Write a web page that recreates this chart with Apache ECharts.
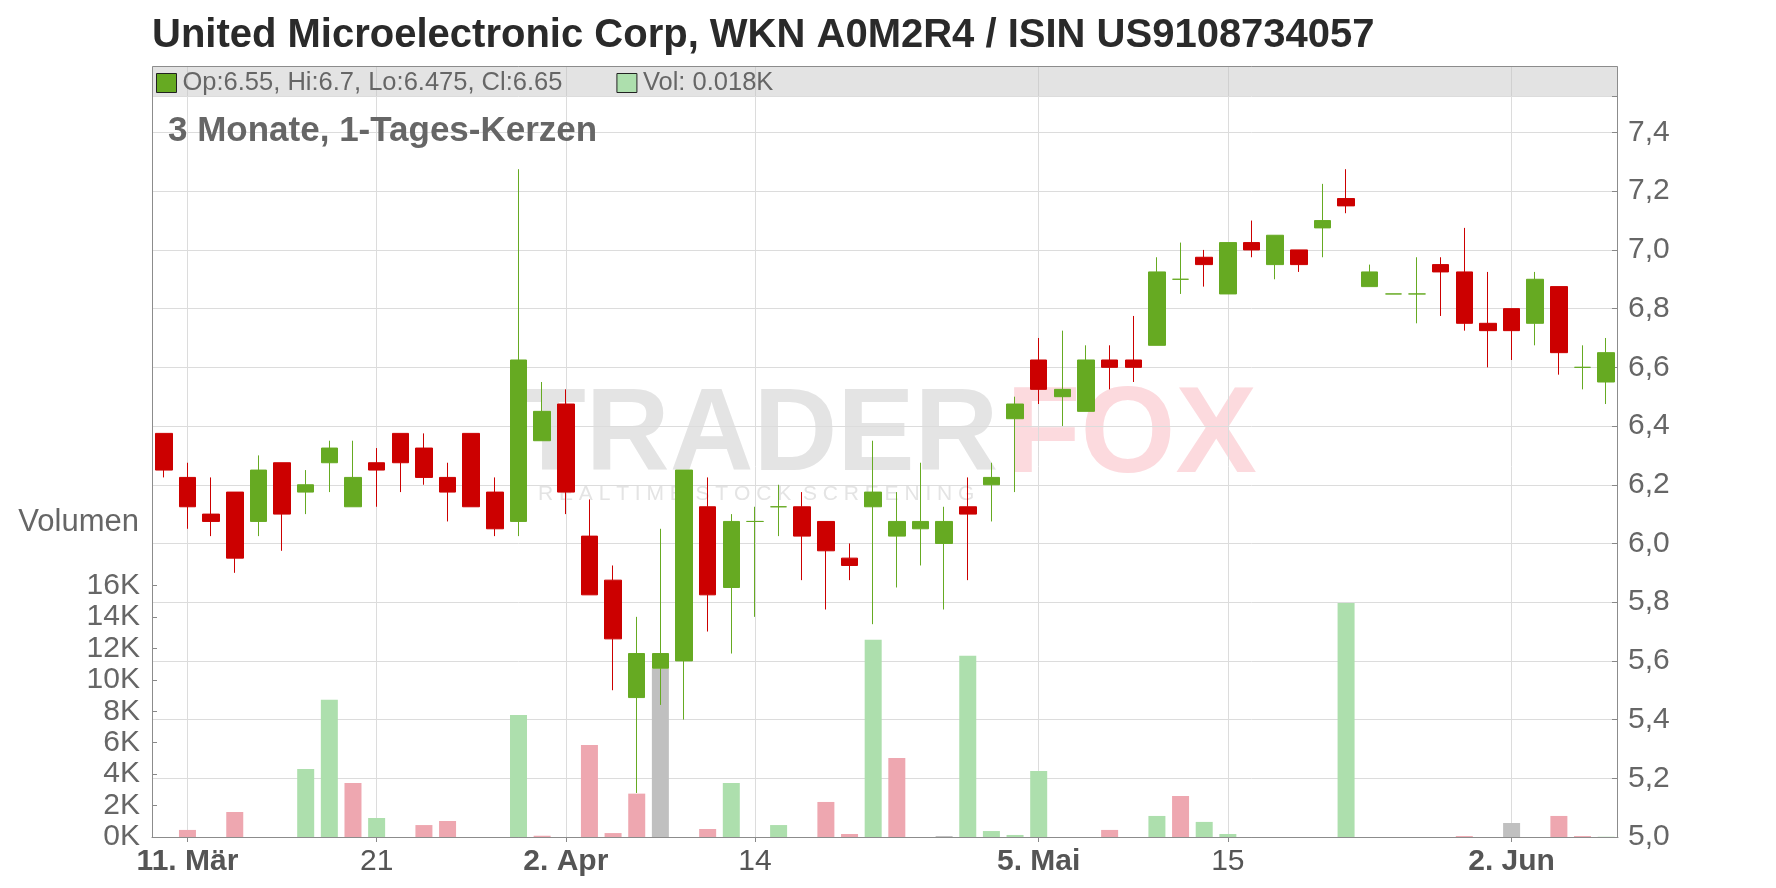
<!DOCTYPE html>
<html>
<head>
<meta charset="utf-8">
<script src="https://cdn.jsdelivr.net/npm/echarts@6/dist/echarts.min.js"></script>
<style>
html,body{margin:0;padding:0;background:#ffffff;}
#chart{width:1776px;height:888px;}
</style>
</head>
<body>
<div id="chart"></div>
<script>
// ---------- data ----------
const dates = [
  '2025-03-10','2025-03-11','2025-03-12','2025-03-13','2025-03-14','2025-03-17','2025-03-18','2025-03-19','2025-03-20','2025-03-21','2025-03-24','2025-03-25','2025-03-26','2025-03-27','2025-03-28','2025-03-31',
  '2025-04-01','2025-04-02','2025-04-03','2025-04-04','2025-04-07','2025-04-08','2025-04-09','2025-04-10','2025-04-11','2025-04-14','2025-04-15','2025-04-16','2025-04-17','2025-04-22','2025-04-23','2025-04-24','2025-04-25','2025-04-28','2025-04-29','2025-04-30',
  '2025-05-02','2025-05-05','2025-05-06','2025-05-07','2025-05-08','2025-05-09','2025-05-12','2025-05-13','2025-05-14','2025-05-15','2025-05-16','2025-05-19','2025-05-20','2025-05-21','2025-05-22','2025-05-23','2025-05-26','2025-05-27','2025-05-28','2025-05-29','2025-05-30',
  '2025-06-02','2025-06-03','2025-06-04','2025-06-05','2025-06-06'
];
const opens = [
  6.375,6.225,6.1,6.175,6.075,6.275,6.175,6.275,6.125,6.275,6.375,6.325,6.225,6.375,6.175,6.075,
  6.35,6.475,6.025,5.875,5.475,5.575,5.6,6.125,5.85,6.075,6.125,6.125,6.075,5.95,6.125,6.025,6.05,6.0,6.125,6.2,
  6.425,6.625,6.5,6.45,6.625,6.625,6.675,6.9,6.975,6.85,7.025,6.95,7.0,7.075,7.175,6.875,6.85,6.85,6.95,6.925,6.75,
  6.8,6.75,6.875,6.6,6.55
];
const highs = [
  6.375,6.275,6.225,6.175,6.3,6.275,6.25,6.35,6.35,6.325,6.375,6.375,6.275,6.375,6.225,7.275,
  6.55,6.525,6.15,5.925,5.75,6.05,6.25,6.225,6.1,6.125,6.2,6.175,6.075,6.0,6.35,6.175,6.275,6.125,6.225,6.275,
  6.5,6.7,6.725,6.675,6.675,6.775,6.975,7.025,7.0,7.025,7.1,7.05,7.0,7.225,7.275,6.95,6.85,6.975,6.975,7.075,6.925,
  6.8,6.925,6.875,6.675,6.7
];
const lows = [
  6.225,6.05,6.025,5.9,6.025,5.975,6.1,6.175,6.125,6.125,6.175,6.2,6.075,6.125,6.025,6.025,
  6.35,6.1,5.825,5.5,5.15,5.45,5.4,5.7,5.625,5.75,6.025,5.875,5.775,5.875,5.725,5.85,5.925,5.775,5.875,6.075,
  6.175,6.475,6.4,6.45,6.525,6.55,6.675,6.85,6.875,6.85,6.975,6.9,6.925,6.975,7.125,6.875,6.85,6.75,6.775,6.725,6.6,
  6.625,6.675,6.575,6.525,6.475
];
const closes = [
  6.25,6.125,6.075,5.95,6.25,6.1,6.2,6.325,6.225,6.25,6.275,6.225,6.175,6.125,6.05,6.625,
  6.45,6.175,5.825,5.675,5.625,5.625,6.25,5.825,6.075,6.075,6.125,6.025,5.975,5.925,6.175,6.075,6.075,6.075,6.1,6.225,
  6.475,6.525,6.525,6.625,6.6,6.6,6.925,6.9,6.95,7.025,7.0,7.05,6.95,7.1,7.15,6.925,6.85,6.85,6.925,6.75,6.725,
  6.725,6.9,6.65,6.6,6.65
];
const volumes = [
  0,450,0,1590,0,0,4330,8730,3440,1210,0,760,1020,0,0,7770,
  80,0,5860,250,2760,10720,0,510,3440,0,760,0,2230,190,12550,5030,0,60,11530,380,
  130,4200,0,0,450,0,1340,2610,960,190,0,0,0,0,14900,0,0,0,0,60,0,
  890,0,1340,60,18
];
const tickDates  = ['2025-03-11','2025-03-21','2025-04-02','2025-04-14','2025-05-05','2025-05-15','2025-06-02'];
const tickLabels = ['11. Mär','21','2. Apr','14','5. Mai','15','2. Jun'];
const tickBold   = [true,false,true,false,true,false,true];
const priceMin = 5.0, priceTopLabel = 7.4, priceStep = 0.2;
const volumeMax = 16000, volumeStep = 2000;

const titleText = 'United Microelectronic Corp, WKN A0M2R4 / ISIN US9108734057';
const subtitleText = '3 Monate, 1-Tages-Kerzen';

// ---------- layout / style ----------
const FONT = '"Liberation Sans", Arial, sans-serif';
const L = 152, R = 1618, HEAD_TOP = 66, HEAD_BOT = 96, BOT = 837;
const PRICE_TOP_Y = 132.5;                 // pixel row of the 7.4 tick
const VOL_TOP_Y = 585.6;                   // pixel row of the 16K tick
const priceMax = priceMin + (priceTopLabel - priceMin) * (BOT - HEAD_BOT) / (BOT - PRICE_TOP_Y);
const UP = '#66aa22', DOWN = '#cc0000';
const VUP = '#addfad', VDOWN = '#eea7b0', VFLAT = '#c0c0c0';

const isTick = (idx, val) => tickDates.indexOf(val) >= 0;

const candleData = dates.map((d, i) => [opens[i], closes[i], lows[i], highs[i]]);
const volData = volumes.map((v, i) => {
  let c = VFLAT;
  if (i === 0 || closes[i] > closes[i - 1]) c = VUP;
  else if (closes[i] < closes[i - 1]) c = VDOWN;
  return { value: v, itemStyle: { color: c } };
});
const last = dates.length - 1;
const fmt = n => String(n);

const chart = echarts.init(document.getElementById('chart'), null, { renderer: 'canvas' });
chart.setOption({
  animation: false,
  backgroundColor: '#ffffff',
  textStyle: { fontFamily: FONT },
  title: [
    { text: titleText, left: L, top: 16, padding: 0,
      textStyle: { fontFamily: FONT, fontSize: 40, fontWeight: 'bold', color: '#2a2a2a' } },
    { text: subtitleText, left: 168, top: 114, padding: 0,
      textStyle: { fontFamily: FONT, fontSize: 35, fontWeight: 'bold', color: '#666666' } }
  ],
  legend: {
    left: 156, top: 70, padding: 0, itemGap: 54, itemWidth: 20, itemHeight: 19,
    selectedMode: false, icon: 'rect',
    textStyle: { fontFamily: FONT, fontSize: 25.5, color: '#666666', padding: [0, 0, 0, 1] },
    data: [
      { name: 'ohlc', itemStyle: { color: UP, borderColor: '#222', borderWidth: 1 } },
      { name: 'vol', itemStyle: { color: VUP, borderColor: '#222', borderWidth: 1 } }
    ],
    formatter: name => name === 'ohlc'
      ? `Op:${fmt(opens[last])}, Hi:${fmt(highs[last])}, Lo:${fmt(lows[last])}, Cl:${fmt(closes[last])}`
      : `Vol: ${(volumes[last] / 1000).toFixed(3)}K`
  },
  grid: [
    { left: L, right: 1776 - R, top: HEAD_BOT, bottom: 888 - BOT },
    { left: L, right: 1776 - R, top: VOL_TOP_Y, bottom: 888 - BOT },
    { left: L, right: 1776 - R, top: HEAD_TOP, height: HEAD_BOT - HEAD_TOP, show: true,
      backgroundColor: '#e3e3e3', borderWidth: 0 }
  ],
  xAxis: [
    { type: 'category', gridIndex: 0, data: dates, boundaryGap: true,
      axisLine: { show: true, lineStyle: { color: '#888888', width: 1 } },
      axisTick: { show: true, interval: isTick, alignWithLabel: true, length: 5, lineStyle: { color: '#888888' } },
      axisLabel: { show: true, interval: isTick, margin: 10, hideOverlap: false,
        formatter: v => { const k = tickDates.indexOf(v); return k < 0 ? '' : (tickBold[k] ? '{b|' + tickLabels[k] + '}' : '{n|' + tickLabels[k] + '}'); },
        rich: {
          b: { fontFamily: FONT, fontSize: 30, fontWeight: 'bold', color: '#555555' },
          n: { fontFamily: FONT, fontSize: 30, color: '#555555' }
        } },
      splitLine: { show: true, interval: isTick, alignWithLabel: true, lineStyle: { color: '#dcdcdc', width: 1 } }
    },
    { type: 'category', gridIndex: 1, data: dates, boundaryGap: true, show: false },
    { type: 'category', gridIndex: 2, data: dates, boundaryGap: true,
      axisLine: { show: false }, axisTick: { show: false }, axisLabel: { show: false },
      splitLine: { show: true, interval: isTick, alignWithLabel: true, lineStyle: { color: '#d0d0d0', width: 1 } } }
  ],
  yAxis: [
    { type: 'value', gridIndex: 0, position: 'right', min: priceMin, max: priceMax, interval: priceStep,
      axisLine: { show: false },
      axisTick: { show: true, inside: true, length: 6, lineStyle: { color: '#888888' } },
      axisLabel: { margin: 10, fontFamily: FONT, fontSize: 30, color: '#666666',
        formatter: v => {
          const k = Math.round((v - priceMin) / priceStep);
          if (Math.abs(priceMin + k * priceStep - v) > 1e-6 || v > priceTopLabel + 1e-6) return '';
          return v.toFixed(1).replace('.', ',');
        } },
      splitLine: { show: true, lineStyle: { color: '#dcdcdc', width: 1 } }
    },
    { type: 'value', gridIndex: 1, position: 'left', min: 0, max: volumeMax, interval: volumeStep,
      name: 'Volumen', nameLocation: 'end', nameGap: 48,
      nameTextStyle: { fontFamily: FONT, fontSize: 31, color: '#666666', align: 'right', padding: [0, 13, 0, 0] },
      axisLine: { show: false },
      axisTick: { show: true, inside: true, length: 5, lineStyle: { color: '#888888' } },
      axisLabel: { margin: 12, fontFamily: FONT, fontSize: 30, color: '#666666', formatter: v => (v / 1000) + 'K' },
      splitLine: { show: false }
    },
    { type: 'value', gridIndex: 2, min: 0, max: 1, show: false, splitLine: { show: false } }
  ],
  graphic: [
    { type: 'text', z: -1, left: 515, top: 380, silent: true,
      style: { text: 'TRADER', font: 'bold 116px "Liberation Sans", Arial, sans-serif', fill: '#e4e4e4' } },
    { type: 'text', z: -1, left: 1006, top: 377, silent: true,
      style: { text: 'FOX', font: 'bold 122px "Liberation Sans", Arial, sans-serif', fill: '#fcdade' } },
    { type: 'text', z: -1, left: 538, top: 484, silent: true,
      style: { text: 'R E A L T I M E  S T O C K  S C R E E N I N G', font: '21px "Liberation Sans", Arial, sans-serif', fill: '#e4e4e4' } },
    { type: 'rect', z: 50, silent: true,
      shape: { x: L + 0.5, y: HEAD_TOP + 0.5, width: R - L - 1, height: BOT - HEAD_TOP },
      style: { fill: 'none', stroke: '#8c8c8c', lineWidth: 1 } }
  ],
  series: [
    { name: 'vol', type: 'bar', xAxisIndex: 1, yAxisIndex: 1, barWidth: 17, z: 1,
      data: volData },
    { name: 'ohlc', type: 'candlestick', xAxisIndex: 0, yAxisIndex: 0, barWidth: 17, z: 3,
      itemStyle: { color: UP, color0: DOWN, borderColor: UP, borderColor0: DOWN, borderColorDoji: UP, borderWidth: 1 },
      data: candleData }
  ]
});
</script>
</body>
</html>
